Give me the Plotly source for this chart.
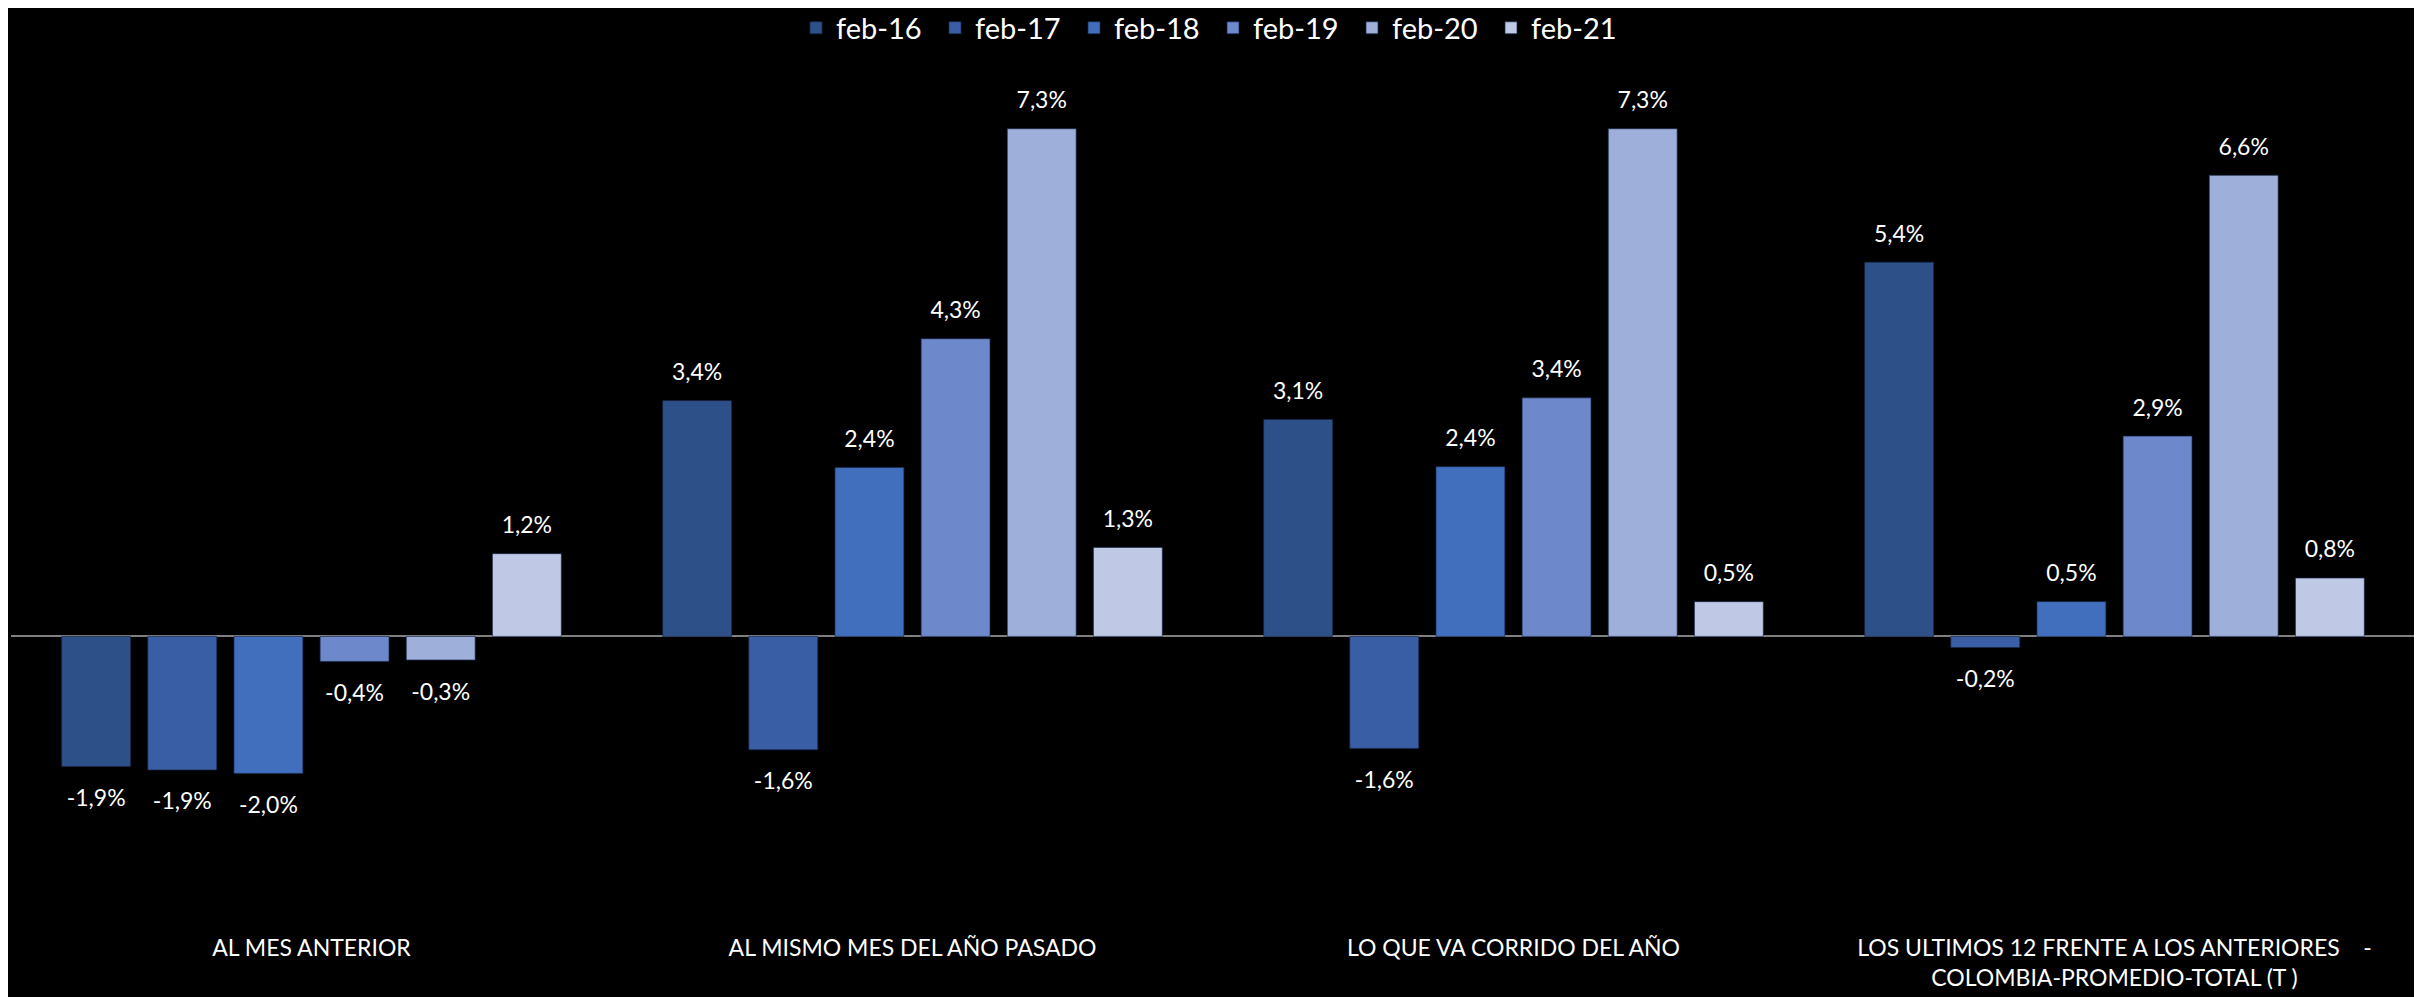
import plotly.graph_objects as go

categories = [
    "AL MES ANTERIOR",
    "AL MISMO MES DEL AÑO PASADO",
    "LO QUE VA CORRIDO DEL AÑO",
    "LOS ULTIMOS 12 FRENTE A LOS ANTERIORES\u00a0\u00a0\u00a0\u00a0-<br>COLOMBIA-PROMEDIO-TOTAL (T )",
]
series = ["feb-16", "feb-17", "feb-18", "feb-19", "feb-20", "feb-21"]

# growth rates (fraction), one list per period
feb_16 = [-0.0187, 0.0339, 0.0312, 0.0538]
feb_17 = [-0.0192, -0.0163, -0.0161, -0.0016]
feb_18 = [-0.0197, 0.0243, 0.0244, 0.0050]
feb_19 = [-0.0036, 0.0428, 0.0343, 0.0288]
feb_20 = [-0.0034, 0.0730, 0.0730, 0.0663]
feb_21 = [0.0119, 0.0128, 0.0050, 0.0084]

values = [feb_16, feb_17, feb_18, feb_19, feb_20, feb_21]
colors = ["#2E5089", "#3A5EA6", "#416FBE", "#6E89CB", "#9EAFDA", "#BFC9E5"]

font = "Lato, 'Open Sans', sans-serif"

fig = go.Figure()
for name, vals, col in zip(series, values, colors):
    fig.add_trace(go.Bar(x=categories, y=vals, name=name,
                         marker=dict(color=col, line=dict(width=1, color="rgba(25,40,75,0.7)"))))

# data labels: invisible markers give the label some distance from the bar end
for name, vals in zip(series, values):
    fig.add_trace(go.Scatter(
        x=categories, y=vals, mode="markers+text", showlegend=False, hoverinfo="skip",
        marker=dict(size=[34 if v < 0 else 22 for v in vals], opacity=0),
        texttemplate="%{y:.1%}",
        textposition=["bottom center" if v < 0 else "top center" for v in vals],
        textfont=dict(color="white", size=23, family=font),
        cliponaxis=False,
    ))

fig.update_layout(
    width=2422, height=997,
    paper_bgcolor="black", plot_bgcolor="black",
    barmode="group", bargap=0.14, bargroupgap=0.2,
    scattermode="group", scattergap=0.14,
    separators=",.",
    margin=dict(l=3, r=15, t=72, b=73),
    font=dict(family=font, color="white"),
    showlegend=True,
    legend=dict(orientation="h", x=0.5, xanchor="center", y=0.98, yref="container",
                yanchor="middle", font=dict(size=29, color="white"), entrywidth=94,
                bgcolor="rgba(0,0,0,0)"),
)
fig.update_xaxes(showgrid=False, showline=False, ticks="",
                 tickfont=dict(size=23, color="white", family=font))
fig.update_yaxes(range=[-0.0425, 0.08], showgrid=False, showticklabels=False,
                 zeroline=True, zerolinecolor="#7f7f7f", zerolinewidth=2)

fig.write_html("out.html")
